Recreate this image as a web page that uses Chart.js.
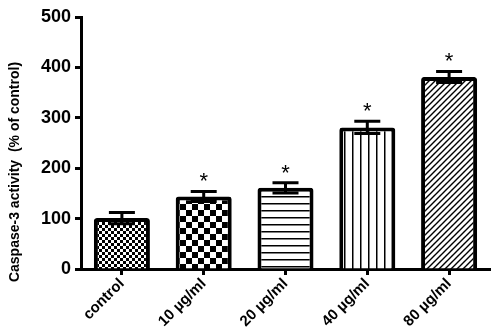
<!DOCTYPE html>
<html>
<head>
<meta charset="utf-8">
<script src="https://cdn.jsdelivr.net/npm/chart.js@4/dist/chart.umd.min.js"></script>
<style>
  html, body { margin: 0; padding: 0; background: #fff; }
  #wrap { width: 500px; height: 336px; }
</style>
</head>
<body>
<div id="wrap"><canvas id="caspaseChart"></canvas></div>
<script>
// values
const categories = ['control', '10 µg/ml', '20 µg/ml', '40 µg/ml', '80 µg/ml'];
const means = [101, 144, 161, 281, 381];
const errors = [11, 10, 10, 12, 11];
const marks = ['', '*', '*', '*', '*'];
const patternKinds = ['fineCheck', 'coarseCheck', 'hLines', 'vLines', 'diag'];
const yLabel = 'Caspase-3 activity  (% of control)';

function makePattern(kind) {
    var c = document.createElement('canvas');
    var ctx = c.getContext('2d');
    var s;
    if (kind === 'fineCheck') s = 6;
    else if (kind === 'coarseCheck') s = 12;
    else if (kind === 'hLines') s = 7;
    else if (kind === 'vLines') s = 8;
    else s = 6;
    c.width = s; c.height = s;
    ctx.fillStyle = '#fff';
    ctx.fillRect(0, 0, s, s);
    ctx.fillStyle = '#000';
    ctx.strokeStyle = '#000';
    if (kind === 'fineCheck' || kind === 'coarseCheck') {
        var h = s / 2;
        ctx.fillRect(0, 0, h, h);
        ctx.fillRect(h, h, h, h);
    } else if (kind === 'hLines') {
        ctx.fillRect(0, 0, s, 1.5);
    } else if (kind === 'vLines') {
        ctx.fillRect(0, 0, 1.5, s);
    } else {
        ctx.lineWidth = 1.4;
        ctx.beginPath();
        ctx.moveTo(-1, s + 1); ctx.lineTo(s + 1, -1);
        ctx.moveTo(-1, 1); ctx.lineTo(1, -1);
        ctx.moveTo(s - 1, s + 1); ctx.lineTo(s + 1, s - 1);
        ctx.stroke();
    }
    return ctx.createPattern(c, 'repeat');
}

const errorBars = {
    id: 'errorBars',
    afterDatasetsDraw(chart) {
        var ctx = chart.ctx;
        var y = chart.scales.y;
        var meta = chart.getDatasetMeta(0);
        ctx.save();
        ctx.strokeStyle = '#000';
        ctx.lineWidth = 3;
        meta.data.forEach((bar, i) => {
            var top = y.getPixelForValue(means[i] + errors[i]);
            var bot = y.getPixelForValue(means[i] - errors[i]);
            var cap = 13;
            ctx.beginPath();
            ctx.moveTo(bar.x, top); ctx.lineTo(bar.x, bot);
            ctx.moveTo(bar.x - cap, top); ctx.lineTo(bar.x + cap, top);
            ctx.moveTo(bar.x - cap, bot); ctx.lineTo(bar.x + cap, bot);
            ctx.stroke();
            if (marks[i]) {
                ctx.fillStyle = '#000';
                ctx.font = '22px "Liberation Sans", Arial, sans-serif';
                ctx.textAlign = 'center';
                ctx.textBaseline = 'middle';
                ctx.fillText(marks[i], bar.x, top - 9);
            }
        });
        // y axis title
        ctx.translate(15, 172);
        ctx.rotate(-Math.PI / 2);
        ctx.fillStyle = '#000';
        ctx.font = 'bold 14px "Liberation Sans", Arial, sans-serif';
        ctx.textAlign = 'center';
        ctx.textBaseline = 'middle';
        ctx.fillText(yLabel, 0, 0);
        ctx.restore();
    }
};

var caspaseChart = new Chart('caspaseChart', { //eslint-disable-line
    type: 'bar',
    data: {
        labels: categories,
        datasets: [{
            data: means,
            backgroundColor: patternKinds.map(makePattern),
            borderColor: '#000',
            borderWidth: 4,
            borderRadius: 3,
            borderSkipped: 'bottom',
            barPercentage: 0.685,
            categoryPercentage: 1
        }]
    },
    options: {
        responsive: true,
        maintainAspectRatio: false,
        animation: false,
        layout: { padding: { top: 17, right: 10, left: 0, bottom: 0 } },
        plugins: {
            legend: { display: false },
            tooltip: { enabled: false }
        },
        scales: {
            x: {
                grid: {
                    offset: false,
                    drawOnChartArea: false,
                    tickLength: 6,
                    tickWidth: 3,
                    color: '#000'
                },
                border: { color: '#000', width: 3 },
                ticks: {
                    color: '#000',
                    minRotation: 45,
                    maxRotation: 45,
                    padding: 0,
                    font: { family: '"Liberation Sans", Arial, sans-serif', size: 15, weight: 'bold' }
                },
                afterFit(scale) { scale.height = 67; }
            },
            y: {
                min: 0,
                max: 500,
                grid: {
                    drawOnChartArea: false,
                    tickLength: 6,
                    tickWidth: 3,
                    color: '#000'
                },
                border: { color: '#000', width: 3 },
                ticks: {
                    stepSize: 100,
                    color: '#000',
                    padding: 4,
                    font: { family: '"Liberation Sans", Arial, sans-serif', size: 18, weight: 'bold' }
                },
                afterFit(scale) { scale.width = 81; }
            }
        }
    },
    plugins: [errorBars]
});
</script>
</body>
</html>
